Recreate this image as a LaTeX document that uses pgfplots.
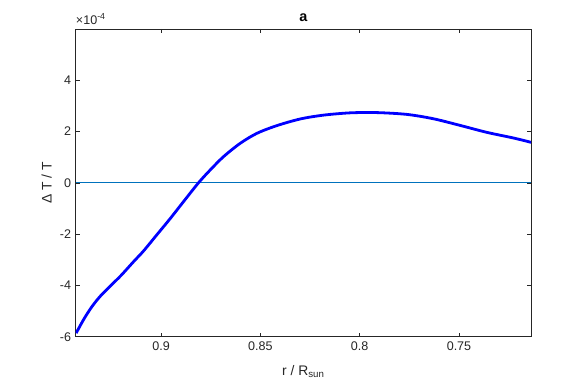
\documentclass[border=0pt]{standalone}
\usepackage{pgfplots}
\pgfplotsset{compat=1.18}
\usepackage{fontspec}
\setmainfont{Liberation Sans}
\definecolor{axgray}{rgb}{0.15,0.15,0.15}
\definecolor{mlblue}{rgb}{0,0.447,0.741}
\begin{document}
\begin{tikzpicture}[x=1pt,y=1pt]
\useasboundingbox (0,0) rectangle (439.5,288.75);
\begin{axis}[
 at={(56.8pt,36.2pt)}, anchor=south west,
 scale only axis, width=341.5pt, height=230.8pt,
 x dir=reverse, xmin=0.7137, xmax=0.943, ymin=-6, ymax=6,
 xtick={0.9,0.85,0.8,0.75}, xticklabels={0.9,0.85,0.8,0.75},
 ytick={-6,-4,...,4},
 tick align=inside, major tick length=3pt,
 axis line style={axgray, line width=0.5pt},
 tick style={axgray, line width=0.5pt},
 ticklabel style={font=\fontsize{9.4}{11}\selectfont, text=axgray},
 /pgf/number format/assume math mode=true,
 xlabel={r / R\textsubscript{sun}},
 ylabel={Δ T / T},
 xlabel style={at={(axis description cs:0.5,-0.1245)}, anchor=base, font=\fontsize{10.4}{12}\selectfont, text=axgray},
 ylabel style={at={(axis description cs:-0.0527,0.5)}, anchor=base, font=\fontsize{10.4}{12}\selectfont, text=axgray},
 title={a},
 title style={at={(axis description cs:0.5,1.0228)}, anchor=base, yshift=-6pt, font=\bfseries\fontsize{10.8}{12}\selectfont},
 clip mode=individual,
]
\addplot[mlblue, line width=0.75pt] coordinates {(0.943,0) (0.7137,0)};
\addplot[blue, line width=2.1pt, smooth] coordinates {
(0.9428,-5.86)
(0.9388,-5.30)
(0.9346,-4.80)
(0.9304,-4.40)
(0.9253,-4.00)
(0.9203,-3.62)
(0.9136,-3.05)
(0.9089,-2.66)
(0.9022,-2.03)
(0.8955,-1.40)
(0.8888,-0.74)
(0.8812,0.0)
(0.8753,0.50)
(0.8686,1.02)
(0.8602,1.54)
(0.8518,1.93)
(0.8418,2.23)
(0.8300,2.49)
(0.8183,2.64)
(0.8048,2.73)
(0.7914,2.74)
(0.7763,2.67)
(0.7629,2.50)
(0.7494,2.24)
(0.7360,1.97)
(0.7226,1.75)
(0.7137,1.58)
};
\node[anchor=base west, inner sep=0pt, font=\fontsize{9.4}{11}\selectfont, text=axgray] at (rel axis cs:0,1) [yshift=3pt] {×10\textsuperscript{-4}};
\end{axis}
\end{tikzpicture}
\end{document}
